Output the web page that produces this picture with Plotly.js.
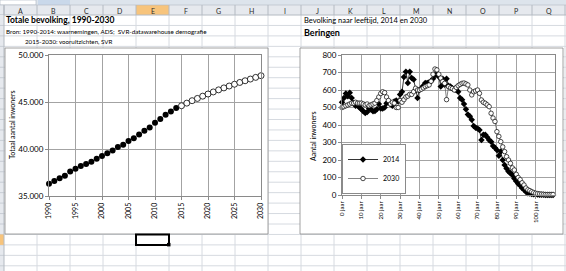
<!DOCTYPE html>
<html>
<head>
<meta charset="utf-8">
<script src="https://cdn.plot.ly/plotly-3.0.1.min.js"></script>
<style>
  html, body { margin: 0; padding: 0; background: #ffffff; }
  #chart { width: 566px; height: 271px; }
</style>
</head>
<body>
<div id="chart"></div>
<script>
// ---------- Data ----------
const yearsHist = [1990,1991,1992,1993,1994,1995,1996,1997,1998,1999,2000,2001,2002,2003,2004,2005,2006,2007,2008,2009,2010,2011,2012,2013,2014];
const popHist = [36300,36600,36900,37150,37600,37900,38200,38400,38650,38950,39250,39550,39850,40200,40450,40850,41150,41550,41950,42300,42800,43200,43650,44000,44350];
const yearsProj = [2015,2016,2017,2018,2019,2020,2021,2022,2023,2024,2025,2026,2027,2028,2029,2030];
const popProj = [44600,44880,45140,45380,45620,45850,46070,46290,46500,46700,46890,47080,47260,47440,47620,47800];
const yearTicks = [1990,1995,2000,2005,2010,2015,2020,2025,2030];

const ages = [0,1,2,3,4,5,6,7,8,9,10,11,12,13,14,15,16,17,18,19,20,21,22,23,24,25,26,27,28,29,
  30,31,32,33,34,35,36,37,38,39,40,41,42,43,44,45,46,47,48,49,50,51,52,53,54,55,56,57,58,59,
  60,61,62,63,64,65,66,67,68,69,70,71,72,73,74,75,76,77,78,79,80,81,82,83,84,85,86,87,88,89,
  90,91,92,93,94,95,96,97,98,99,100,101,102,103,104,105,106,107,108,109];
const pop2014 = [530,555,580,565,585,555,525,510,512,500,
  490,478,468,475,495,488,478,480,490,520,
  495,495,500,525,530,520,510,535,540,535,
  575,590,675,705,640,705,668,660,600,555,
  600,610,625,640,640,645,650,665,685,690,
  676,620,665,630,665,625,620,610,605,600,
  590,555,545,520,490,460,450,430,395,385,
  380,372,315,345,345,330,315,305,280,270,
  257,225,248,200,172,152,135,124,114,95,
  78,65,55,40,30,19,10,8,6,5,
  4,3,2,1,1,0,0,0,0,0];
const pop2030 = [500,505,510,515,520,525,525,530,525,525,
  525,520,515,520,510,515,520,525,540,560,
  580,590,585,560,540,520,530,525,500,500,
  540,530,545,560,565,575,575,590,610,600,
  600,605,612,620,625,629,650,690,720,715,
  690,668,648,638,545,619,612,608,600,615,
  625,632,638,640,635,629,600,572,590,595,
  600,581,543,530,524,515,505,467,440,420,
  362,335,305,275,248,219,200,181,155,143,
  118,100,88,70,57,40,30,25,19,14,
  10,8,6,5,4,3,3,3,3,3];
const ageTickVals = [0,10,20,30,40,50,60,70,80,90,100];
const ageTickText = ["0 jaar","10 jaar","20 jaar","30 jaar","40 jaar","50 jaar","60 jaar","70 jaar","80 jaar","90 jaar","100 jaar"];
const seriesNames = ["2014","2030"];

const colLetters = ["A","B","C","D","E","F","G","H","I","J","K","L","M","N","O","P","Q"];

// ---------- Layout helpers (pixel -> paper) ----------
const W = 566, H = 271;
const px = x => x / W;
const py = y => 1 - y / H;
const FONT = 'Lato, "Open Sans", sans-serif';

const shapes = [];
function rect(x0, y0, x1, y1, fill, lineColor, lw) {
  shapes.push({type:'rect', xref:'paper', yref:'paper', layer:'below',
    x0:px(x0), x1:px(x1), y0:py(y1), y1:py(y0),
    fillcolor: fill || 'rgba(0,0,0,0)',
    line:{color: lineColor || 'rgba(0,0,0,0)', width: lw === undefined ? 0 : lw}});
}
function hline(x0, x1, y, color, lw) {
  shapes.push({type:'line', xref:'paper', yref:'paper', layer:'below',
    x0:px(x0), x1:px(x1), y0:py(y), y1:py(y), line:{color:color, width:lw||1}});
}
function vline(x, y0, y1, color, lw) {
  shapes.push({type:'line', xref:'paper', yref:'paper', layer:'below',
    x0:px(x), x1:px(x), y0:py(y0), y1:py(y1), line:{color:color, width:lw||1}});
}

// spreadsheet geometry
const colStart = 4, colW = 33;
const headTop = 5, headBot = 15, rowH = 10.45;
const gridColor = '#d6dae0';
const headFill = '#e6e9ee';
const headLine = '#b4bac2';
const orange = '#f7c47c';

// formula bar strip
rect(0, 0, W, headTop, '#dde4ec');
rect(0, 0, 36, headTop, '#ffffff', '#a9b3bf', 0.6);
rect(38, 0, 70, headTop, '#c9d8ea');

// grid lines for cells
for (let y = headBot + rowH; y < H; y += rowH) hline(colStart, W, y, gridColor, 1);
for (let k = 1; k <= colLetters.length; k++) vline(colStart + k * colW, headBot, H, gridColor, 1);

// column header row
rect(0, headTop, W, headBot, headFill);
rect(colStart + 4 * colW, headTop, colStart + 5 * colW, headBot, orange);
hline(0, W, headBot, headLine, 1);
hline(0, W, headTop, headLine, 0.6);
for (let k = 0; k <= colLetters.length; k++) vline(colStart + k * colW, headTop, headBot, headLine, 1);

// row header column
rect(0, headBot, colStart, H, headFill);
for (let y = headBot + rowH; y < H; y += rowH) hline(0, colStart, y, headLine, 0.6);
rect(0, headBot + 21 * rowH, colStart, headBot + 22 * rowH, orange);
vline(colStart, headTop, H, headLine, 1);

// chart frames
rect(5, 48, 268, 234, '#ffffff', '#8a8a8a', 0.8);
rect(300, 48, 563, 234, '#ffffff', '#8a8a8a', 0.8);

// selected cell E22
rect(colStart + 4 * colW, headBot + 21 * rowH, colStart + 5 * colW, headBot + 22 * rowH, 'rgba(0,0,0,0)', '#000000', 2);
rect(colStart + 5 * colW - 2, headBot + 22 * rowH - 2, colStart + 5 * colW + 1.5, headBot + 22 * rowH + 1.5, '#000000');

// ---------- annotations ----------
const annotations = [];
function txt(text, x, y, opts) {
  annotations.push(Object.assign({
    text: text, xref:'paper', yref:'paper', x: px(x), y: py(y),
    xanchor:'left', yanchor:'middle', showarrow:false,
    font:{family:FONT, size:7, color:'#000'}
  }, opts || {}));
}
colLetters.forEach((c, k) => {
  txt(c, colStart + k * colW + colW / 2, (headTop + headBot) / 2 + 0.5,
    {xanchor:'center', font:{family:FONT, size:7, color:'#2a2a2a'}});
});
txt('<b>Totale bevolking, 1990-2030</b>', 4, 20.2, {font:{family:FONT, size:8.5, color:'#000'}});
txt('Bron: 1990-2014: waarnemingen, ADS;  SVR-datawarehouse demografie', 4, 31, {font:{family:FONT, size:6.3, color:'#000'}});
txt('2015-2030: vooruitzichten, SVR', 23, 41.5, {font:{family:FONT, size:6.2, color:'#000'}});
txt('Bevolking naar leeftijd, 2014 en 2030', 302, 20.2, {font:{family:FONT, size:7.5, color:'#000'}});
txt('<b>Beringen</b>', 302, 32.5, {font:{family:FONT, size:9, color:'#000'}});
txt('Totaal aantal inwoners', 12, 125, {xanchor:'center', textangle:-90, font:{family:FONT, size:7, color:'#000'}});
txt('Aantal inwoners', 313, 136, {xanchor:'center', textangle:-90, font:{family:FONT, size:7, color:'#000'}});

// ---------- traces ----------
const traces = [
  {x: yearsHist, y: popHist, type:'scatter', mode:'markers', xaxis:'x', yaxis:'y',
   marker:{symbol:'circle', size:6, color:'#000'}, showlegend:false, cliponaxis:false},
  {x: yearsProj, y: popProj, type:'scatter', mode:'markers', xaxis:'x', yaxis:'y',
   marker:{symbol:'circle', size:6, color:'#ffffff', line:{color:'#000', width:0.8}}, showlegend:false, cliponaxis:false},
  {x: ages, y: pop2014, type:'scatter', mode:'lines+markers', xaxis:'x2', yaxis:'y2', name: seriesNames[0],
   line:{color:'#000', width:0.8}, marker:{symbol:'diamond', size:5, color:'#000'}, cliponaxis:false},
  {x: ages, y: pop2030, type:'scatter', mode:'lines+markers', xaxis:'x2', yaxis:'y2', name: seriesNames[1],
   line:{color:'#666', width:0.8}, marker:{symbol:'circle', size:4.5, color:'#ffffff', line:{color:'#000', width:0.7}}, cliponaxis:false}
];

const axisCommon = {
  showgrid:true, gridcolor:'#a3a3a3', gridwidth:1, zeroline:false,
  showline:true, mirror:true, linecolor:'#8a8a8a', linewidth:1,
  ticks:'outside', ticklen:3, tickcolor:'#8a8a8a', fixedrange:true
};

const layout = {
  width: W, height: H,
  margin:{l:0, r:0, t:0, b:0, pad:0},
  paper_bgcolor:'#ffffff', plot_bgcolor:'rgba(0,0,0,0)',
  font:{family:FONT, size:8, color:'#000'},
  separators:',.',
  showlegend:true,
  legend:{x:px(342), y:py(194), xanchor:'left', yanchor:'bottom',
    bgcolor:'#ffffff', bordercolor:'#8a8a8a', borderwidth:1,
    font:{family:FONT, size:7, color:'#000'}, itemwidth:30, tracegroupgap:0},
  xaxis: Object.assign({}, axisCommon, {domain:[px(49), px(261)], range:[1990, 2030], anchor:'y',
    tickmode:'array', tickvals: yearTicks, tickangle:-90, tickfont:{family:FONT, size:7}}),
  yaxis: Object.assign({}, axisCommon, {domain:[py(196), py(55)], range:[35000, 50000], anchor:'x',
    dtick:5000, tick0:35000, tickformat:',d', tickfont:{family:FONT, size:8}}),
  xaxis2: Object.assign({}, axisCommon, {domain:[px(342), px(555)], range:[0, 110], anchor:'y2',
    tickmode:'array', tickvals: ageTickVals, ticktext: ageTickText, tickangle:-90, tickfont:{family:FONT, size:6}}),
  yaxis2: Object.assign({}, axisCommon, {domain:[py(195), py(55)], range:[0, 800], anchor:'x2',
    dtick:100, tick0:0, tickfont:{family:FONT, size:8}}),
  shapes: shapes,
  annotations: annotations
};

Plotly.newPlot('chart', traces, layout, {staticPlot:true, displayModeBar:false});
</script>
</body>
</html>
